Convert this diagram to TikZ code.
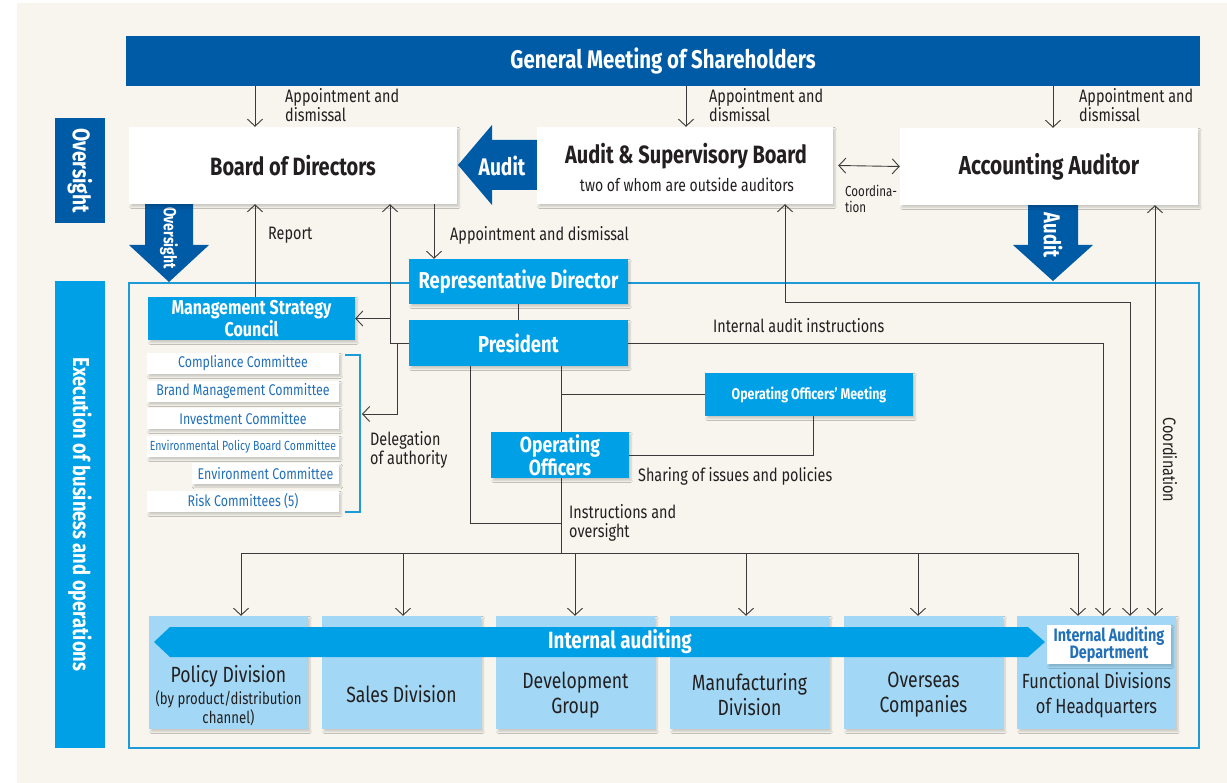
\documentclass[tikz,border=0pt]{standalone}
\usepackage{fontspec}
\setmainfont{Fira Sans}[FakeStretch=0.8]
\usetikzlibrary{arrows.meta,shadows.blur}
\definecolor{bgc}{HTML}{F7F5EE}
\definecolor{dblue}{HTML}{005BA6}
\definecolor{mblue}{HTML}{00A0E6}
\definecolor{pblue}{HTML}{A2D8F5}
\definecolor{cblue}{HTML}{1E9AD6}
\definecolor{ctext}{HTML}{2270B8}
\definecolor{lc}{HTML}{3A3A3A}
\definecolor{tc}{HTML}{231F20}
\newcommand\fsz[2]{\fontsize{#1}{#2}\selectfont}
\tikzset{
  shad/.style={blur shadow={shadow blur steps=5, shadow xshift=2pt, shadow yshift=-2.5pt, shadow opacity=18, shadow blur radius=1.8pt}},
  wbox/.style={fill=white, shad, inner sep=0pt, align=center, text=tc},
  bbox/.style={fill=mblue, shad, inner sep=0pt, align=center, text=white, font=\bfseries\fsz{23}{25}},
  cbox/.style={fill=white, shad, inner sep=0pt, minimum height=21pt, text=ctext, font=\fsz{15.5}{17}},
  dbox/.style={fill=pblue, shad, inner sep=0pt, minimum width=159pt, minimum height=113pt},
  dtext/.style={text=tc, align=center, inner sep=0pt, font=\fsz{22}{25}},
  lbl/.style={text=tc, font=\fsz{18}{19}, align=left, inner sep=0pt, anchor=west},
  ln/.style={draw=lc, line width=0.9pt},
  arr/.style={ln, -{Straight Barb[length=7pt,width=15pt]}},
  arrb/.style={ln, {Straight Barb[length=7pt,width=15pt]}-{Straight Barb[length=7pt,width=15pt]}},
  wtext/.style={text=white, inner sep=0pt, font=\bfseries\fsz{24}{26}}
}
\begin{document}
\begin{tikzpicture}[x=1pt,y=-1pt]
\useasboundingbox (0,0) rectangle (1227,783);
\fill[white] (0,0) rectangle (1227,783);
\fill[bgc] (17,3) rectangle (1227,783);
% container
\draw[cblue, line width=1.2pt] (129,283) rectangle (1199,748);
% column coordinates
\foreach \n/\v in {a/255,b/686,c/1053,d/390,e/397,f/434,g/785,h/1103,i/1130,j/1155,k/470,l/561,m/813,p1/241,p2/403,p3/575,p4/746,p5/918,p6/1078}
  \coordinate (x\n) at (\v,0);
\coordinate (y302) at (0,302);
\coordinate (y523) at (0,523);
\coordinate (y553) at (0,553);
\coordinate (brk) at (362,414);
% top
\node[fill=dblue, minimum width=1074pt, minimum height=50pt, inner sep=0pt, text=white, font=\bfseries\fsz{25.5}{27}] (gms) at (663,61) {General Meeting of Shareholders};
\node[fill=dblue, rotate=-90, minimum width=105pt, minimum height=50pt, inner sep=0pt, text=white, font=\bfseries\fsz{24}{26}] (ovl) at (80,170.5) {Oversight};
\node[fill=mblue, rotate=-90, minimum width=467pt, minimum height=50pt, inner sep=0pt, text=white, font=\bfseries\fsz{23}{25}] (exl) at (80,514.5) {Execution of business and operations};
% blue arrows
\fill[dblue] (145,200) -- (193,200) -- (193,245) -- (209,245) -- (169,282) -- (129,245) -- (145,245) -- cycle;
\node[wtext, rotate=-90, font=\bfseries\fsz{17.5}{19}] (ovt) at (169,238) {Oversight};
\fill[dblue] (1028,200) -- (1078,200) -- (1078,245) -- (1093,245) -- (1053,281) -- (1013,245) -- (1028,245) -- cycle;
\node[wtext, rotate=-90, font=\bfseries\fsz{23}{25}] (aut2) at (1053,235) {Audit};
\fill[dblue] (458,165) -- (492,125) -- (492,140) -- (540,140) -- (540,190) -- (492,190) -- (492,205) -- cycle;
\node[wtext] (aut1) at (502,166) {Audit};
% boxes
\node[wbox, minimum width=328pt, minimum height=77pt, font=\bfseries\fsz{25}{27}] (bod) at (293,165.5) {Board of Directors};
\node[wbox, minimum width=296pt, minimum height=77pt] (asb) at (685,165.5) {};
\node[text=tc, inner sep=0pt, font=\bfseries\fsz{25}{27}] (asbt) at (686,156) {Audit \& Supervisory Board};
\node[text=tc, inner sep=0pt, font=\fsz{17.5}{19}] (asbs) at (687,185) {two of whom are outside auditors};
\node[wbox, minimum width=298pt, minimum height=77pt, font=\bfseries\fsz{26}{28}] (aa) at (1049,166.5) {Accounting Auditor};
\node[bbox, minimum width=219pt, minimum height=45pt] (rep) at (518.5,281.5) {Representative Director};
\node[bbox, minimum width=219pt, minimum height=46pt] (pres) at (518.5,343) {President};
\node[bbox, minimum width=207pt, minimum height=43pt, font=\bfseries\fsz{20}{20}] (msc) at (251.5,318.5) {Management Strategy\\Council};
\node[bbox, minimum width=208pt, minimum height=43pt, font=\bfseries\fsz{15.5}{17}] (oom) at (809,394.5) {Operating Officers' Meeting};
\node[bbox, minimum width=138pt, minimum height=46pt, font=\bfseries\fsz{22}{21}] (oo) at (560,455) {Operating\\Officers};
% committees
\node[cbox, minimum width=192pt] (c1) at (243,363.5) {Compliance Committee};
\node[cbox, minimum width=192pt] (c2) at (243,391.5) {Brand Management Committee};
\node[cbox, minimum width=192pt] (c3) at (243,418.5) {Investment Committee};
\node[cbox, minimum width=192pt, font=\fsz{13.2}{15}] (c4) at (243,446.5) {Environmental Policy Board Committee};
\node[cbox, minimum width=147pt] (c5) at (265.5,474) {Environment Committee};
\node[cbox, minimum width=192pt] (c6) at (243,501.5) {Risk Committees (5)};
\draw[cblue, line width=1.2pt] (345,355) -- (360,355) -- (360,512) -- (345,512);
% divisions
\node[dbox] (d1) at (228.5,672.5) {};
\node[dbox] (d2) at (401.5,672.5) {};
\node[dbox] (d3) at (575.5,672.5) {};
\node[dbox] (d4) at (749.5,672.5) {};
\node[dbox] (d5) at (923.5,672.5) {};
\node[dbox] (d6) at (1096.5,672.5) {};
\fill[mblue] (154,642) -- (170,627) -- (1028,627) -- (1045,642) -- (1028,657) -- (170,657) -- cycle;
\node[wtext, font=\bfseries\fsz{23.5}{25}] (ia) at (620,642) {Internal auditing};
\node[wbox, minimum width=124pt, minimum height=39pt, text=ctext, font=\bfseries\fsz{18}{17}] (iad) at (1109,644.5) {Internal Auditing\\Department};
\node[dtext] (t1) at (228.5,696) {Policy Division\\[-3pt]{\fsz{16.5}{19}(by product/distribution}\\[-6pt]{\fsz{16.5}{19}channel)}};
\node[dtext] (t2) at (401.5,694) {Sales Division};
\node[dtext] (t3) at (575.5,695) {Development\\Group};
\node[dtext] (t4) at (749.5,695) {Manufacturing\\Division};
\node[dtext] (t5) at (923.5,695) {Overseas\\Companies};
\node[dtext, font=\fsz{20.5}{25}] (t6) at (1096.5,695) {Functional Divisions\\of Headquarters};
% connectors
\draw[arr] (gms.south -| xa) -- (bod.north -| xa);
\draw[arr] (gms.south -| xb) -- (asb.north -| xb);
\draw[arr] (gms.south -| xc) -- (aa.north -| xc);
\draw[arrb] ([xshift=5pt]asb.east) -- (aa.west);
\draw[arr] (msc.north -| xa) -- (bod.south -| xa);
\draw[arr] (pres.west) -| (bod.south -| xd);
\draw[arr] (xd |- msc.east) -- (msc.east);
\draw[arr] (xe |- pres.west) |- (brk);
\draw[arr] (bod.south -| xf) -- (rep.north -| xf);
\draw[ln] (rep.south) -- (pres.north);
\draw[arrb] (asb.south -| xg) |- (xi |- y302) -- (d6.north -| xi);
\draw[arr] (pres.east) -| (d6.north -| xh);
\draw[arrb] (aa.south -| xj) -- (d6.north -| xj);
\draw[ln] (pres.south -| xl) -- (oo.north -| xl);
\draw[ln] (xl |- oom.west) -- (oom.west);
\draw[ln] (pres.south -| xk) |- (xl |- y523);
\draw[ln] (oo.east) -| (oom.south -| xm);
\draw[ln] (oo.south -| xl) -- (xl |- y553);
\draw[ln] (xp1 |- y553) -- (xp6 |- y553);
\draw[arr] (xp1 |- y553) -- (d1.north -| xp1);
\draw[arr] (xp2 |- y553) -- (d2.north -| xp2);
\draw[arr] (xp3 |- y553) -- (d3.north -| xp3);
\draw[arr] (xp4 |- y553) -- (d4.north -| xp4);
\draw[arr] (xp5 |- y553) -- (d5.north -| xp5);
\draw[arr] (xp6 |- y553) -- (d6.north -| xp6);
% labels
\node[lbl] (l1) at (285,105.5) {Appointment and\\dismissal};
\node[lbl] (l2) at (709,105.5) {Appointment and\\dismissal};
\node[lbl] (l3) at (1079,105.5) {Appointment and\\dismissal};
\node[lbl, font=\fsz{14.5}{16}] (l4) at (845,198.5) {Coordina-\\tion};
\node[lbl] (l5) at (268,235) {Report};
\node[lbl] (l6) at (450,235) {Appointment and dismissal};
\node[lbl] (l7) at (713,326) {Internal audit instructions};
\node[lbl] (l8) at (638,476) {Sharing of issues and policies};
\node[lbl] (l9) at (569,523) {Instructions and\\oversight};
\node[lbl] (l10) at (370,450) {Delegation\\of authority};
\node[lbl, anchor=center, rotate=-90] (l11) at (1170,460) {Coordination};
\end{tikzpicture}
\end{document}
